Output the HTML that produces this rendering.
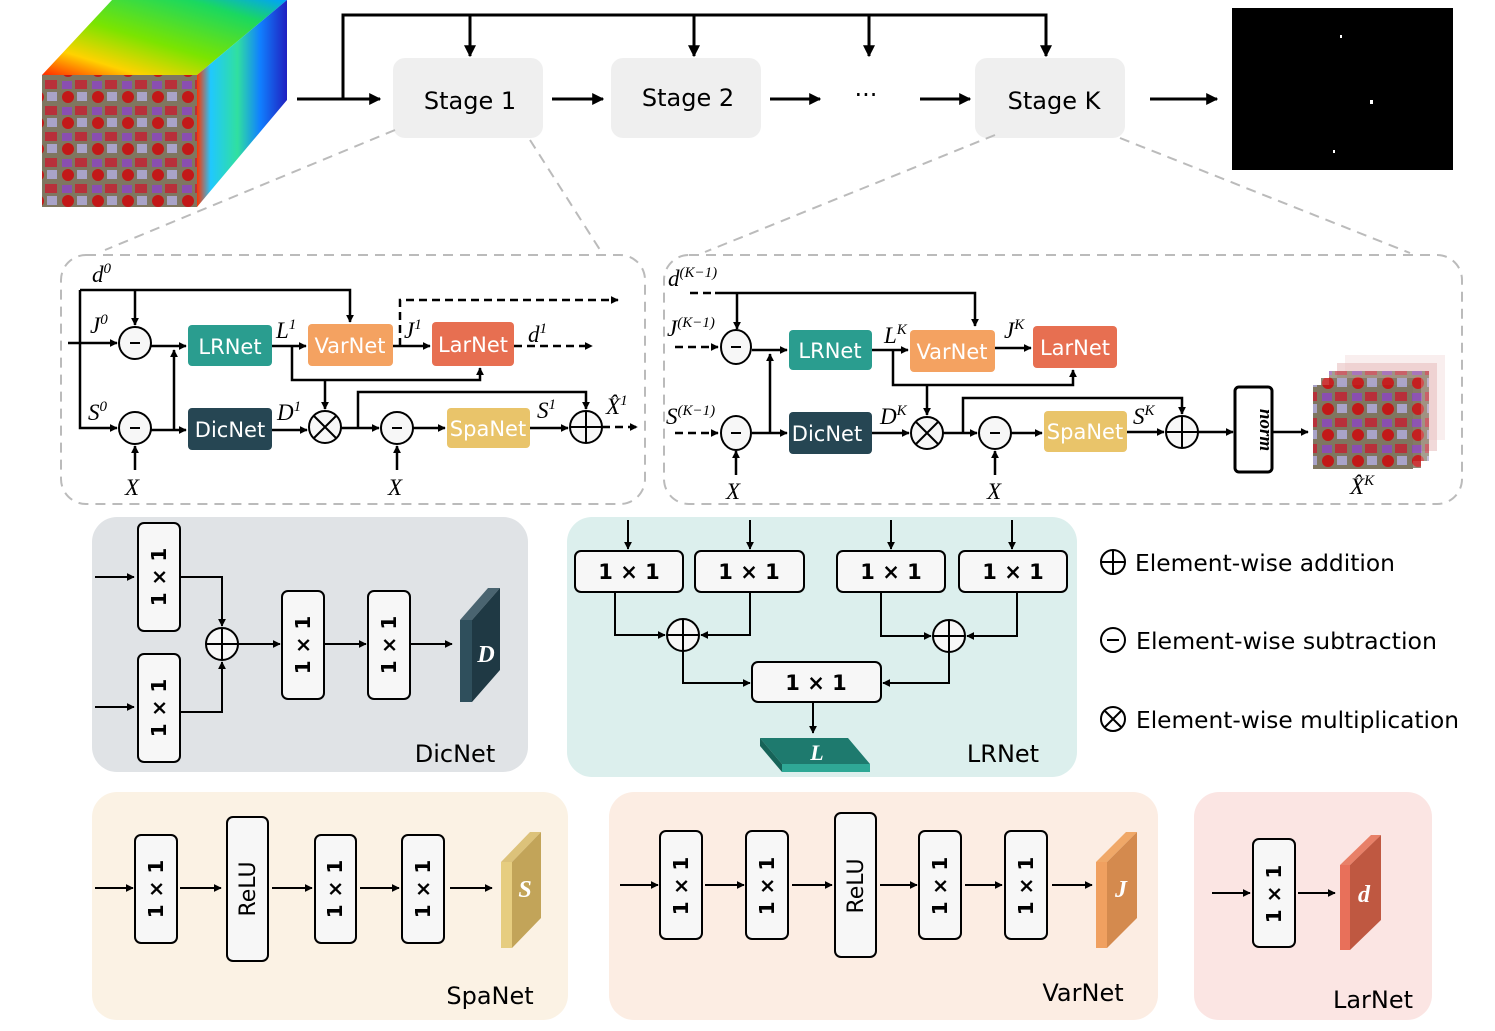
<!DOCTYPE html>
<html><head><meta charset="utf-8"><style>
html,body{margin:0;padding:0;background:#fff}
svg{display:block}
text{font-family:"DejaVu Sans","Liberation Sans",sans-serif}
.m{font-family:"Liberation Serif",serif;font-style:italic}
</style></head><body>
<svg width="1495" height="1031" viewBox="0 0 1495 1031" xmlns="http://www.w3.org/2000/svg">
<defs>
<marker id="a" viewBox="0 0 10 10" refX="9" refY="5" markerWidth="8" markerHeight="8" orient="auto" markerUnits="userSpaceOnUse"><path d="M0,0L10,5L0,10z" fill="#000"/></marker>
<marker id="b" viewBox="0 0 10 10" refX="9" refY="5" markerWidth="12" markerHeight="12" orient="auto" markerUnits="userSpaceOnUse"><path d="M0,0L10,5L0,10z" fill="#000"/></marker>
<linearGradient id="top" x1="0" y1="1" x2="1" y2="0"><stop offset="0" stop-color="#ff2a00"/><stop offset=".2" stop-color="#ffd200"/><stop offset=".45" stop-color="#7be400"/><stop offset=".8" stop-color="#1ad860"/><stop offset="1" stop-color="#00a0ff"/></linearGradient>
<linearGradient id="side" x1="0" y1="0" x2="1" y2="0"><stop offset="0" stop-color="#ff3300"/><stop offset=".15" stop-color="#20c8ff"/><stop offset=".45" stop-color="#30e0a0"/><stop offset=".7" stop-color="#1080ff"/><stop offset="1" stop-color="#2020c0"/></linearGradient>
<pattern id="city" width="30" height="26" patternUnits="userSpaceOnUse"><rect width="30" height="26" fill="#7f7660"/><rect x="2" y="3" width="10" height="8" fill="#8a4fb0"/><rect x="15" y="2" width="12" height="9" fill="#b8303a"/><circle cx="8" cy="19" r="6" fill="#c21818"/><rect x="17" y="14" width="10" height="9" fill="#a9a3c8"/></pattern>
</defs>

<polygon points="42,75 197,75 287,0 112,0" fill="url(#top)"/>
<polygon points="197,75 287,0 287,100 197,207" fill="url(#side)"/>
<rect x="42" y="75" width="155" height="132" fill="url(#city)"/>

<g stroke="#000" stroke-width="3" fill="none">
<path d="M297,99H380" marker-end="url(#b)"/>
<path d="M343,99V15H1046V56" marker-end="url(#b)"/>
<path d="M470,15V56" marker-end="url(#b)"/>
<path d="M694,15V56" marker-end="url(#b)"/>
<path d="M869,15V56" marker-end="url(#b)"/>
<path d="M552,99H603" marker-end="url(#b)"/>
<path d="M770,99H820" marker-end="url(#b)"/>
<path d="M920,99H970" marker-end="url(#b)"/>
<path d="M1150,99H1217" marker-end="url(#b)"/>
</g>
<rect x="393" y="58" width="150" height="80" rx="12" fill="#efefef"/>
<rect x="611" y="58" width="150" height="80" rx="12" fill="#efefef"/>
<rect x="975" y="58" width="150" height="80" rx="12" fill="#efefef"/>
<text x="470" y="109" font-size="24" text-anchor="middle">Stage 1</text>
<text x="688" y="106" font-size="24" text-anchor="middle">Stage 2</text>
<text x="1054" y="109" font-size="24" text-anchor="middle">Stage K</text>
<text x="866" y="103" font-size="24" text-anchor="middle">···</text>
<rect x="1232" y="8" width="221" height="162" fill="#000"/>
<rect x="1370" y="100" width="3" height="4" fill="#fff"/><rect x="1340" y="35" width="2" height="3" fill="#fff"/><rect x="1333" y="150" width="2" height="3" fill="#fff"/>

<g stroke="#bbb" stroke-width="2" stroke-dasharray="10,7" fill="none">
<path d="M395,130L105,250M530,140L602,253M995,135L705,252M1120,138L1410,253"/>
<rect x="61" y="255" width="584" height="249" rx="25"/>
<rect x="664" y="255" width="798" height="249" rx="25"/>
</g>

<!-- LEFT PANEL -->
<g stroke="#000" stroke-width="2.5" fill="none">
<path d="M68,343H117" marker-end="url(#a)"/>
<path d="M80,290V428H117" marker-end="url(#a)"/>
<path d="M80,290H350V322" marker-end="url(#a)"/>
<path d="M135,290V325" marker-end="url(#a)"/>
<path d="M151,346H186" marker-end="url(#a)"/>
<path d="M151,430H186" marker-end="url(#a)"/>
<path d="M174,430V350" marker-end="url(#a)"/>
<path d="M272,346H306" marker-end="url(#a)"/>
<path d="M292,346V380H480V368" marker-end="url(#a)"/>
<path d="M325,380V409" marker-end="url(#a)"/>
<path d="M393,346H430" marker-end="url(#a)"/>
<path d="M272,430H307" marker-end="url(#a)"/>
<path d="M341,428H379" marker-end="url(#a)"/>
<path d="M358,428V392H586V409" marker-end="url(#a)"/>
<path d="M413,428H445" marker-end="url(#a)"/>
<path d="M530,428H568" marker-end="url(#a)"/>
<path d="M135,470V446" marker-end="url(#a)"/>
<path d="M397,470V446" marker-end="url(#a)"/>
</g>
<g stroke="#000" stroke-width="2.5" fill="none" stroke-dasharray="8,5">
<path d="M400,346V300H618" marker-end="url(#a)"/>
<path d="M514,346H592" marker-end="url(#a)"/>
<path d="M602,427H637" marker-end="url(#a)"/>
</g>
<g stroke="#000" stroke-width="2" fill="#f7f7f7">
<circle cx="135" cy="343" r="16"/><circle cx="135" cy="428" r="16"/>
<circle cx="325" cy="427" r="16"/><circle cx="397" cy="428" r="16"/><circle cx="586" cy="427" r="16"/>
<path d="M314,416L336,438M336,416L314,438M570,427H602M586,411V443" fill="none"/>
<path d="M130,343H140M130,428H140M392,428H402" fill="none"/>
</g>
<g font-size="21" fill="#fff" text-anchor="middle">
<rect x="188" y="325" width="84" height="41" rx="4" fill="#2a9d8f"/><text x="230" y="354">LRNet</text>
<rect x="308" y="324" width="85" height="42" rx="4" fill="#f4a261"/><text x="350" y="353">VarNet</text>
<rect x="432" y="322" width="82" height="44" rx="4" fill="#e76f51"/><text x="473" y="352">LarNet</text>
<rect x="188" y="408" width="84" height="42" rx="4" fill="#264653"/><text x="230" y="437">DicNet</text>
<rect x="447" y="408" width="83" height="40" rx="4" fill="#e9c46a"/><text x="488" y="436">SpaNet</text>
</g>
<g font-size="23">
<text x="92" y="282" class="m">d<tspan font-size="15" dy="-9">0</tspan></text>
<text x="90" y="333" class="m">J<tspan font-size="15" dy="-9">0</tspan></text>
<text x="88" y="420" class="m">S<tspan font-size="15" dy="-9">0</tspan></text>
<text x="276" y="338" class="m">L<tspan font-size="15" dy="-9">1</tspan></text>
<text x="404" y="338" class="m">J<tspan font-size="15" dy="-9">1</tspan></text>
<text x="528" y="342" class="m">d<tspan font-size="15" dy="-9">1</tspan></text>
<text x="277" y="420" class="m">D<tspan font-size="15" dy="-9">1</tspan></text>
<text x="537" y="418" class="m">S<tspan font-size="15" dy="-9">1</tspan></text>
<text x="606" y="414" class="m">X̂<tspan font-size="15" dy="-9">1</tspan></text>
<text x="125" y="495" class="m">X</text><text x="388" y="495" class="m">X</text>
</g>

<!-- RIGHT PANEL -->
<g stroke="#000" stroke-width="2.5" fill="none">
<path d="M715,293H975V326" marker-end="url(#a)"/>
<path d="M737,293V329" marker-end="url(#a)"/>
<path d="M752,350H787" marker-end="url(#a)"/>
<path d="M752,433H787" marker-end="url(#a)"/>
<path d="M770,433V354" marker-end="url(#a)"/>
<path d="M872,350H908" marker-end="url(#a)"/>
<path d="M893,350V385H1073V370" marker-end="url(#a)"/>
<path d="M927,385V415" marker-end="url(#a)"/>
<path d="M995,348H1031" marker-end="url(#a)"/>
<path d="M872,433H909" marker-end="url(#a)"/>
<path d="M943,433H977" marker-end="url(#a)"/>
<path d="M963,433V398H1182V414" marker-end="url(#a)"/>
<path d="M1011,433H1042" marker-end="url(#a)"/>
<path d="M1127,432H1164" marker-end="url(#a)"/>
<path d="M1198,432H1233" marker-end="url(#a)"/>
<path d="M1272,432H1308" marker-end="url(#a)"/>
<path d="M736,475V451" marker-end="url(#a)"/>
<path d="M995,475V451" marker-end="url(#a)"/>
</g>
<g stroke="#000" stroke-width="2.5" fill="none" stroke-dasharray="8,5">
<path d="M690,293H715"/>
<path d="M675,347H718" marker-end="url(#a)"/>
<path d="M675,433H718" marker-end="url(#a)"/>
</g>
<g stroke="#000" stroke-width="2" fill="#f7f7f7">
<ellipse cx="736" cy="347" rx="15" ry="17"/><ellipse cx="736" cy="433" rx="15" ry="17"/>
<circle cx="927" cy="433" r="16"/><circle cx="995" cy="433" r="16"/><circle cx="1182" cy="432" r="16"/>
<path d="M916,422L938,444M938,422L916,444M1166,432H1198M1182,416V448" fill="none"/>
<path d="M731,347H741M731,433H741M990,433H1000" fill="none"/>
</g>
<g font-size="21" fill="#fff" text-anchor="middle">
<rect x="789" y="330" width="83" height="40" rx="4" fill="#2a9d8f"/><text x="830" y="358">LRNet</text>
<rect x="910" y="330" width="85" height="42" rx="4" fill="#f4a261"/><text x="952" y="359">VarNet</text>
<rect x="1033" y="326" width="84" height="42" rx="4" fill="#e76f51"/><text x="1075" y="355">LarNet</text>
<rect x="789" y="412" width="83" height="42" rx="4" fill="#264653"/><text x="827" y="441">DicNet</text>
<rect x="1044" y="411" width="83" height="41" rx="4" fill="#e9c46a"/><text x="1085" y="439">SpaNet</text>
</g>
<rect x="1235" y="387" width="37" height="85" rx="4" fill="#fff" stroke="#000" stroke-width="3"/>
<text transform="translate(1260,430) rotate(90)" font-size="19" font-weight="bold" text-anchor="middle" class="m">norm</text>
<g>
<rect x="1345" y="355" width="100" height="85" fill="#f3dede" opacity=".5"/>
<rect x="1337" y="363" width="100" height="88" fill="#e8c0c0" opacity=".6"/>
<rect x="1329" y="371" width="100" height="90" fill="url(#city)" opacity=".7"/>
<rect x="1321" y="378" width="100" height="90" fill="url(#city)" opacity=".85"/>
<rect x="1313" y="385" width="100" height="84" fill="url(#city)"/>
</g>
<g font-size="23">
<text x="668" y="286" class="m">d<tspan font-size="15" dy="-9">(K−1)</tspan></text>
<text x="667" y="336" class="m">J<tspan font-size="15" dy="-9">(K−1)</tspan></text>
<text x="666" y="424" class="m">S<tspan font-size="15" dy="-9">(K−1)</tspan></text>
<text x="884" y="343" class="m">L<tspan font-size="15" dy="-9">K</tspan></text>
<text x="1004" y="338" class="m">J<tspan font-size="15" dy="-9">K</tspan></text>
<text x="880" y="424" class="m">D<tspan font-size="15" dy="-9">K</tspan></text>
<text x="1133" y="424" class="m">S<tspan font-size="15" dy="-9">K</tspan></text>
<text x="1350" y="494" class="m">X̂<tspan font-size="15" dy="-9">K</tspan></text>
<text x="726" y="499" class="m">X</text><text x="987" y="499" class="m">X</text>
</g>

<!-- DicNet panel -->
<rect x="92" y="517" width="436" height="255" rx="25" fill="#e0e3e6"/>
<g stroke="#000" stroke-width="2" fill="none">
<path d="M95,577H134" marker-end="url(#a)"/><path d="M95,707H134" marker-end="url(#a)"/>
<path d="M180,577H222V626" marker-end="url(#a)"/><path d="M180,712H222V662" marker-end="url(#a)"/>
<path d="M238,644H280" marker-end="url(#a)"/><path d="M324,644H366" marker-end="url(#a)"/><path d="M410,644H452" marker-end="url(#a)"/>
</g>
<circle cx="222" cy="644" r="16" fill="#f7f7f7" stroke="#000" stroke-width="2"/>
<path d="M206,644H238M222,628V660" stroke="#000" stroke-width="2"/>
<g fill="#f7f7f7" stroke="#000" stroke-width="2">
<rect x="138" y="523" width="42" height="108" rx="6"/><rect x="138" y="654" width="42" height="108" rx="6"/>
<rect x="282" y="591" width="42" height="108" rx="6"/><rect x="368" y="591" width="42" height="108" rx="6"/>
</g>
<g font-size="20" font-weight="bold" text-anchor="middle">
<text transform="translate(166,577) rotate(-90)">1 × 1</text>
<text transform="translate(166,708) rotate(-90)">1 × 1</text>
<text transform="translate(310,645) rotate(-90)">1 × 1</text>
<text transform="translate(396,645) rotate(-90)">1 × 1</text>
</g>
<polygon points="460,620 488,588 500,588 472,620" fill="#4a6470"/>
<polygon points="460,620 472,620 472,702 460,702" fill="#2f4f5c"/>
<polygon points="472,620 500,588 500,670 472,702" fill="#1f3944"/>
<text x="486" y="662" font-size="24" fill="#fff" font-weight="bold" class="m" text-anchor="middle">D</text>
<text x="455" y="762" font-size="24" text-anchor="middle">DicNet</text>

<!-- LRNet panel -->
<rect x="567" y="517" width="510" height="260" rx="25" fill="#dcefed"/>
<g stroke="#000" stroke-width="2" fill="none">
<path d="M628,520V549" marker-end="url(#a)"/>
<path d="M750,520V549" marker-end="url(#a)"/>
<path d="M891,520V549" marker-end="url(#a)"/>
<path d="M1012,520V549" marker-end="url(#a)"/>
<path d="M615,592V635H665" marker-end="url(#a)"/><path d="M750,592V635H701" marker-end="url(#a)"/>
<path d="M881,592V636H931" marker-end="url(#a)"/><path d="M1017,592V636H967" marker-end="url(#a)"/>
<path d="M683,651V683H750" marker-end="url(#a)"/><path d="M949,652V683H883" marker-end="url(#a)"/>
<path d="M813,702V733" marker-end="url(#a)"/>
</g>
<g fill="#f7f7f7" stroke="#000" stroke-width="2">
<rect x="575" y="551" width="108" height="41" rx="6"/><rect x="695" y="551" width="109" height="41" rx="6"/>
<rect x="837" y="551" width="108" height="41" rx="6"/><rect x="959" y="551" width="108" height="41" rx="6"/>
<rect x="752" y="662" width="129" height="40" rx="6"/>
<circle cx="683" cy="635" r="16"/><circle cx="949" cy="636" r="16"/>
<path d="M667,635H699M683,619V651M933,636H965M949,620V652" fill="none"/>
</g>
<g font-size="21" font-weight="bold" text-anchor="middle">
<text x="629" y="579">1 × 1</text><text x="749" y="579">1 × 1</text>
<text x="891" y="579">1 × 1</text><text x="1013" y="579">1 × 1</text>
<text x="816" y="690">1 × 1</text>
</g>
<polygon points="760,738 848,738 870,764 782,764" fill="#1e7a6e"/>
<polygon points="782,764 870,764 870,772 782,772" fill="#2fa896"/>
<polygon points="760,738 782,764 782,772 760,746" fill="#166358"/>
<text x="817" y="760" font-size="22" fill="#fff" font-weight="bold" class="m" text-anchor="middle">L</text>
<text x="1003" y="762" font-size="24" text-anchor="middle">LRNet</text>

<!-- legend -->
<g stroke="#000" stroke-width="2" fill="none">
<circle cx="1113" cy="562" r="12"/><path d="M1101,562H1125M1113,550V574"/>
<circle cx="1113" cy="640" r="12"/><path d="M1107,640H1119"/>
<circle cx="1113" cy="719" r="12"/><path d="M1105,711L1121,727M1121,711L1105,727"/>
</g>
<g font-size="23">
<text x="1135" y="571" textLength="260" lengthAdjust="spacingAndGlyphs">Element-wise addition</text>
<text x="1136" y="649" textLength="301" lengthAdjust="spacingAndGlyphs">Element-wise subtraction</text>
<text x="1136" y="728" textLength="323" lengthAdjust="spacingAndGlyphs">Element-wise multiplication</text>
</g>

<!-- SpaNet panel -->
<rect x="92" y="792" width="476" height="228" rx="25" fill="#fbf2e4"/>
<g stroke="#000" stroke-width="2" fill="none">
<path d="M95,888H133" marker-end="url(#a)"/>
<path d="M180,888H221" marker-end="url(#a)"/>
<path d="M272,888H312" marker-end="url(#a)"/>
<path d="M360,888H399" marker-end="url(#a)"/>
<path d="M450,888H492" marker-end="url(#a)"/>
</g>
<g fill="#f7f7f7" stroke="#000" stroke-width="2">
<rect x="135" y="835" width="42" height="108" rx="6"/><rect x="227" y="817" width="41" height="144" rx="6"/>
<rect x="315" y="835" width="41" height="108" rx="6"/><rect x="402" y="835" width="42" height="108" rx="6"/>
</g>
<g font-size="20" font-weight="bold" text-anchor="middle">
<text transform="translate(163,889) rotate(-90)">1 × 1</text>
<text transform="translate(255,889) rotate(-90)" font-weight="normal" font-size="22">ReLU</text>
<text transform="translate(342,889) rotate(-90)">1 × 1</text>
<text transform="translate(430,889) rotate(-90)">1 × 1</text>
</g>
<polygon points="501,862 530,832 541,832 512,862" fill="#dcc27a"/>
<polygon points="501,862 512,862 512,948 501,948" fill="#e6cd80"/>
<polygon points="512,862 541,832 541,918 512,948" fill="#c2a459"/>
<text x="525" y="897" font-size="24" fill="#fff" font-weight="bold" class="m" text-anchor="middle">S</text>
<text x="490" y="1004" font-size="24" text-anchor="middle">SpaNet</text>

<!-- VarNet panel -->
<rect x="609" y="792" width="549" height="228" rx="25" fill="#fcede3"/>
<g stroke="#000" stroke-width="2" fill="none">
<path d="M620,885H658" marker-end="url(#a)"/>
<path d="M705,885H744" marker-end="url(#a)"/>
<path d="M792,885H832" marker-end="url(#a)"/>
<path d="M880,885H917" marker-end="url(#a)"/>
<path d="M965,885H1002" marker-end="url(#a)"/>
<path d="M1052,885H1092" marker-end="url(#a)"/>
</g>
<g fill="#f7f7f7" stroke="#000" stroke-width="2">
<rect x="660" y="831" width="42" height="108" rx="6"/><rect x="746" y="831" width="42" height="108" rx="6"/>
<rect x="835" y="813" width="41" height="144" rx="6"/>
<rect x="919" y="831" width="42" height="108" rx="6"/><rect x="1005" y="831" width="42" height="108" rx="6"/>
</g>
<g font-size="20" font-weight="bold" text-anchor="middle">
<text transform="translate(688,886) rotate(-90)">1 × 1</text>
<text transform="translate(774,886) rotate(-90)">1 × 1</text>
<text transform="translate(863,886) rotate(-90)" font-weight="normal" font-size="22">ReLU</text>
<text transform="translate(947,886) rotate(-90)">1 × 1</text>
<text transform="translate(1033,886) rotate(-90)">1 × 1</text>
</g>
<polygon points="1096,862 1126,832 1137,832 1107,862" fill="#f0a868"/>
<polygon points="1096,862 1107,862 1107,948 1096,948" fill="#f0a060"/>
<polygon points="1107,862 1137,832 1137,918 1107,948" fill="#d48a4e"/>
<text x="1121" y="897" font-size="24" fill="#fff" font-weight="bold" class="m" text-anchor="middle">J</text>
<text x="1083" y="1001" font-size="24" text-anchor="middle">VarNet</text>

<!-- LarNet panel -->
<rect x="1194" y="792" width="238" height="228" rx="25" fill="#fbe5e3"/>
<path d="M1212,893H1250" stroke="#000" stroke-width="2" marker-end="url(#a)"/>
<path d="M1298,893H1335" stroke="#000" stroke-width="2" marker-end="url(#a)"/>
<rect x="1253" y="839" width="42" height="108" rx="6" fill="#f7f7f7" stroke="#000" stroke-width="2"/>
<text transform="translate(1281,894) rotate(-90)" font-size="20" font-weight="bold" text-anchor="middle">1 × 1</text>
<polygon points="1340,865 1371,835 1381,835 1350,865" fill="#e88068"/>
<polygon points="1340,865 1350,865 1350,950 1340,950" fill="#e8705a"/>
<polygon points="1350,865 1381,835 1381,920 1350,950" fill="#bf5841"/>
<text x="1364" y="902" font-size="24" fill="#fff" font-weight="bold" class="m" text-anchor="middle">d</text>
<text x="1373" y="1008" font-size="24" text-anchor="middle">LarNet</text>
</svg>
</body></html>
